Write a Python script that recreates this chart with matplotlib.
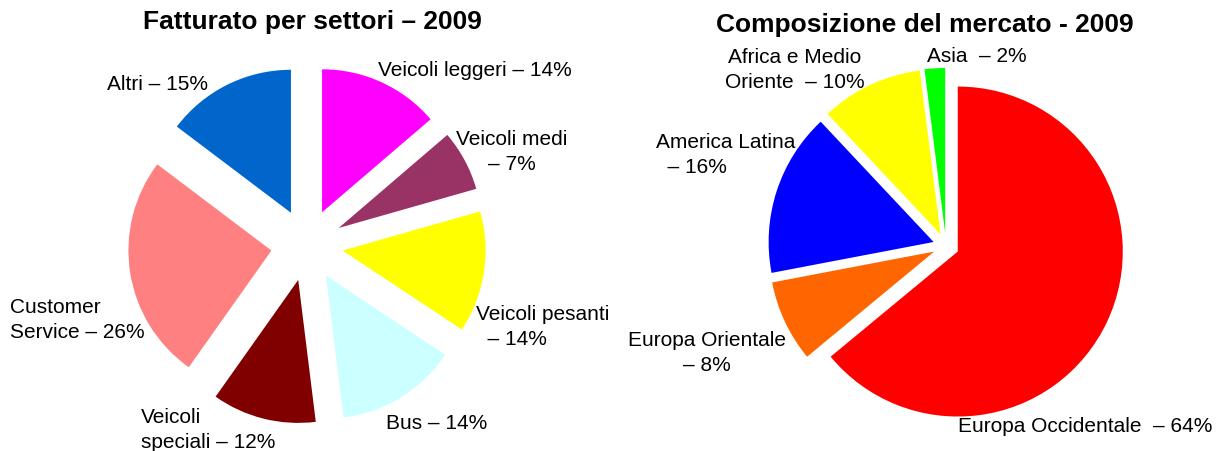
import matplotlib.pyplot as plt

plt.rcParams['font.family'] = ['Liberation Sans', 'DejaVu Sans']

# Fatturato per settori - 2009
settori = ['Veicoli leggeri', 'Veicoli medi', 'Veicoli pesanti', 'Bus',
           'Veicoli speciali', 'Customer Service', 'Altri']
quote_settori = [14, 7, 14, 14, 12, 26, 15]
colori_settori = ['#FF00FF', '#993366', '#FFFF00', '#CCFFFF',
                  '#800000', '#FF8080', '#0066CC']

# Composizione del mercato - 2009
mercati = ['Europa Occidentale', 'Europa Orientale', 'America Latina',
           'Africa e Medio Oriente', 'Asia']
quote_mercati = [64, 8, 16, 10, 2]
colori_mercati = ['#FF0000', '#FF6600', '#0000FF', '#FFFF00', '#00FF00']

W, H = 1219, 452
fig = plt.figure(figsize=(W / 100, H / 100), dpi=100)
ax = fig.add_axes([0, 0, 1, 1])

# coordinate in pixel, y verso l'alto (explode in pixel, non in frazione)
ax.pie(quote_settori, colors=colori_settori, startangle=90, counterclock=False,
       center=(307, H - 246), radius=143, explode=[36] * len(quote_settori),
       wedgeprops=dict(linewidth=0))
ax.pie(quote_mercati, colors=colori_mercati, startangle=90, counterclock=False,
       center=(946, H - 247), radius=165, explode=[13] * len(quote_mercati),
       wedgeprops=dict(linewidth=0))

ax.set_xlim(0, W)
ax.set_ylim(0, H)
ax.set_aspect('equal')
ax.axis('off')

fs = 15
etichette = [
    ('Veicoli leggeri – 14%', 378, 71, 'left'),
    ('Altri – 15%', 107, 84, 'left'),
    ('Veicoli medi\n– 7%', 512, 152, 'center'),
    ('Veicoli pesanti\n  – 14%', 476, 327, 'left'),
    ('Bus – 14%', 386, 424, 'left'),
    ('Veicoli\nspeciali – 12%', 141, 430, 'left'),
    ('Customer\nService – 26%', 10, 320, 'left'),
    ('Africa e Medio\nOriente  – 10%', 795, 70, 'center'),
    ('Asia  – 2%', 927, 57, 'left'),
    ('America Latina\n  – 16%', 656, 155, 'left'),
    ('Europa Orientale\n– 8%', 707, 353, 'center'),
    ('Europa Occidentale  – 64%', 958, 427, 'left'),
]
for testo, x, y, ha in etichette:
    ax.text(x, H - y, testo, ha=ha, va='center', fontsize=fs,
            multialignment=ha, linespacing=1.35)

ax.text(312, H - 22, 'Fatturato per settori – 2009', ha='center', va='center',
        fontsize=19, fontweight='bold')
ax.text(925, H - 25, 'Composizione del mercato - 2009', ha='center', va='center',
        fontsize=19, fontweight='bold')

fig.savefig('out.png', dpi=100)
